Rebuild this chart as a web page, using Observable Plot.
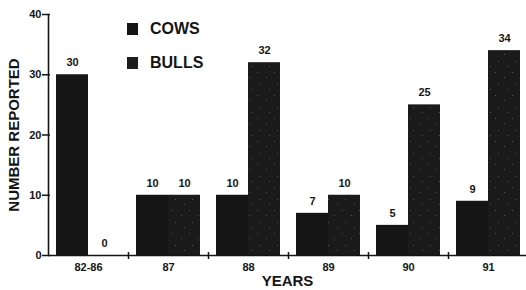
<!DOCTYPE html>
<html><head><meta charset="utf-8">
<script src="https://cdn.jsdelivr.net/npm/d3@7"></script>
<script src="https://cdn.jsdelivr.net/npm/@observablehq/plot@0.6"></script>
<style>
body{margin:0;background:#fff;}
#wrap{position:relative;width:526px;height:290px;font-family:"Liberation Sans",Arial,sans-serif;}
.leg{position:absolute;left:127px;font-weight:bold;font-size:16px;color:#151515;display:flex;align-items:center;}
.sw{width:11px;height:12px;background:#151515;margin-right:12px;}
</style></head><body>
<div id="wrap">
  <div class="leg" style="top:20px"><span class="sw"></span>COWS</div>
  <div class="leg" style="top:54px"><span class="sw" style="background:#1c1c1c"></span>BULLS</div>
</div>
<script>
const years = ["82-86","87","88","89","90","91"];
const cows  = [30, 10, 10, 7, 5, 9];
const bulls = [0, 10, 32, 10, 25, 34];
const yTicks = [0, 10, 20, 30, 40];

const rows = years.map((y, i) => ({i, year: y, cows: cows[i], bulls: bulls[i]}));
const ink = "#151515";
const fontBold = {fontWeight: "bold", fontFamily: "Liberation Sans, Arial, sans-serif"};

const chart = Plot.plot({
  width: 526, height: 290,
  marginLeft: 48, marginRight: 0, marginTop: 14, marginBottom: 35,
  style: {background: "#fff", color: ink, fontFamily: "Liberation Sans, Arial, sans-serif"},
  x: {domain: [0, 6], range: [48, 528]},
  y: {domain: [0, 40]},
  marks: [
    Plot.rectY(rows, {x1: d => d.i + 0.1, x2: d => d.i + 0.5, y: "cows", fill: ink}),
    Plot.rectY(rows, {x1: d => d.i + 0.5, x2: d => d.i + 0.9, y: "bulls", fill: "url(#speckle)"}),
    Plot.text(rows, {x: d => d.i + 0.3, y: "cows", text: d => String(d.cows), dy: -12, fontSize: 11, ...fontBold, fill: ink}),
    Plot.text(rows, {x: d => d.i + 0.7, y: "bulls", text: d => String(d.bulls), dy: -12, fontSize: 11, ...fontBold, fill: ink}),
    Plot.ruleY([0], {stroke: ink, strokeWidth: 1.6}),
    Plot.ruleX([0], {y1: 0, y2: 40, stroke: ink, strokeWidth: 1.6}),
    Plot.axisY({ticks: yTicks, tickSize: 8, dx: 2, tickPadding: 1, fontSize: 11, fontWeight: "bold", label: null, strokeWidth: 1.5}),
    Plot.axisX({ticks: years.map((_, i) => i + 0.5), tickSize: 0, tickPadding: 8, tickFormat: v => years[Math.floor(v)], fontSize: 11, fontWeight: "bold", label: null}),
    Plot.axisX({ticks: [1, 2, 3, 4, 5], tickSize: 7, dy: -3, tickFormat: () => "", label: null, strokeWidth: 1.5}),
    Plot.text(["NUMBER REPORTED"], {frameAnchor: "left", textAnchor: "middle", rotate: -90, dx: -34, fontSize: 15, ...fontBold, fill: ink}),
    Plot.text(["YEARS"], {frameAnchor: "bottom", dy: 30, fontSize: 15, ...fontBold, fill: ink})
  ]
});

// speckled pattern for the bulls bars
const svg = d3.select(chart);
const defs = svg.insert("defs", ":first-child");
const pat = defs.append("pattern").attr("id", "speckle").attr("patternUnits", "userSpaceOnUse")
  .attr("width", 17).attr("height", 23);
pat.append("rect").attr("width", 17).attr("height", 23).attr("fill", "#1a1a1a");
[[2,3],[11,8],[5,15],[14,20]].forEach(([cx, cy]) =>
  pat.append("rect").attr("x", cx).attr("y", cy).attr("width", 1).attr("height", 1).attr("fill", "#5a5a5a"));

document.getElementById("wrap").prepend(chart);
chart.style.position = "absolute";
chart.style.left = "0"; chart.style.top = "0";
</script>
</body></html>
